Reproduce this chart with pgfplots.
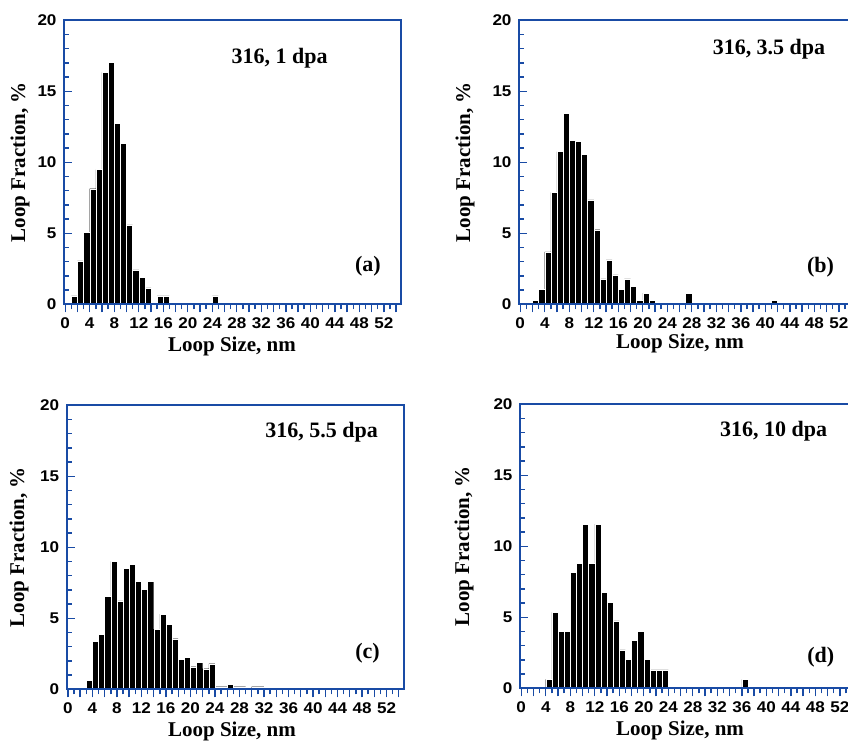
\documentclass[border=0pt]{standalone}
\usepackage{fontspec}
\setmainfont{Liberation Serif}
\newfontfamily\tickfont[FakeStretch=1.1]{Liberation Sans}
\usepackage{pgfplots}
\pgfplotsset{compat=1.18}
\definecolor{axblue}{RGB}{25,75,165}

\pgfplotsset{
  loops/.style={
    scale only axis, width=337pt, height=284pt, anchor=south west,
    xmin=-0.2, xmax=54.8, ymin=0, ymax=20,
    axis on top,
    axis line style={axblue, line width=1.8pt},
    tick style={axblue, line width=1.4pt},
    tick align=inside, tick pos=left,
    major tick length=8pt, minor tick length=5pt,
    xtick={0,4,...,52}, minor xtick={1,3,...,55},
    extra x ticks={2,6,...,54}, extra x tick labels={},
    ytick={0,5,10,15,20},
    minor ytick={1,2,3,4,6,7,8,9,11,12,13,14,16,17,18,19},
    /pgf/number format/assume math mode=true,
    tick label style={font=\tickfont\bfseries\fontsize{15.5}{15.5}\selectfont, black},
    xticklabel style={yshift=-2pt},
    yticklabel style={xshift=-4pt},
    label style={font=\bfseries\fontsize{21}{21}\selectfont},
    xlabel={Loop Size, nm}, ylabel={Loop Fraction, \%},
    ybar, bar width=1, bar shift=0pt,
  },
  hist/.style={fill=black, draw=white, line width=0.4pt},
}
\tikzset{tag/.style={font=\bfseries\fontsize{22}{22}\selectfont}}

\begin{document}
\begin{tikzpicture}

% (a) 1 dpa
\begin{axis}[loops, at={(64pt,436.7pt)},
  xlabel style={at={(axis description cs:0.4985,-0.1675)}, anchor=base},
  ylabel style={at={(axis description cs:-0.1306,0.5)}, anchor=center}]
\addplot[hist] coordinates {
 (1.5,0.59) (2.5,3.06) (3.5,5.06) (4.5,8.14) (5.5,9.48) (6.5,16.33)
 (7.5,17.03) (8.5,12.73) (9.5,11.32) (10.5,5.6) (11.5,2.42) (12.5,1.88)
 (13.5,1.15) (15.5,0.59) (16.5,0.59) (24.5,0.59)};
\node[tag] at (axis cs:35,17.3) {316, 1 dpa};
\node[tag] at (axis cs:49.4,2.7) {(a)};
\end{axis}

% (b) 3.5 dpa
\begin{axis}[loops, at={(519pt,436.7pt)},
  xlabel style={at={(axis description cs:0.478,-0.155)}, anchor=base},
  ylabel style={at={(axis description cs:-0.160,0.5)}, anchor=center}]
\addplot[hist] coordinates {
 (2.5,0.26) (3.5,1.04) (4.5,3.69) (5.5,7.88) (6.5,10.75) (7.5,13.44)
 (8.5,11.53) (9.5,11.46) (10.5,10.54) (11.5,7.36) (12.5,5.25) (13.5,1.79)
 (14.5,3.13) (15.5,2.07) (16.5,1.04) (17.5,1.79) (18.5,1.25) (19.5,0.26)
 (20.5,0.78) (21.5,0.26) (27.5,0.78) (41.5,0.26)};
\node[tag] at (axis cs:40.6,17.95) {316, 3.5 dpa};
\node[tag] at (axis cs:49.0,2.6) {(b)};
\end{axis}

% (c) 5.5 dpa
\begin{axis}[loops, at={(66.7pt,51.7pt)},
  xlabel style={at={(axis description cs:0.4905,-0.165)}, anchor=base},
  ylabel style={at={(axis description cs:-0.1415,0.5)}, anchor=center}]
\addplot[hist] coordinates {
 (3.5,0.65) (4.5,3.39) (5.5,3.88) (6.5,6.55) (7.5,9.0) (8.5,6.22)
 (9.5,8.51) (10.5,8.8) (11.5,7.6) (12.5,7.04) (13.5,7.6) (14.5,4.23)
 (15.5,5.29) (16.5,4.58) (17.5,3.56) (18.5,2.13) (19.5,2.27) (20.5,1.59)
 (21.5,1.92) (22.5,1.45) (23.5,1.8) (24.5,0.18) (25.5,0.18) (26.5,0.37)
 (27.5,0.18) (28.5,0.18) (30.5,0.18) (31.5,0.18)};
\node[tag] at (axis cs:41.4,18.1) {316, 5.5 dpa};
\node[tag] at (axis cs:48.9,2.57) {(c)};
\end{axis}

% (d) 10 dpa
\begin{axis}[loops, at={(520pt,52.7pt)},
  xlabel style={at={(axis description cs:0.475,-0.165)}, anchor=base},
  ylabel style={at={(axis description cs:-0.166,0.5)}, anchor=center}]
\addplot[hist] coordinates {
 (4.5,0.63) (5.5,5.35) (6.5,4.03) (7.5,4.03) (8.5,8.18) (9.5,8.82)
 (10.5,11.56) (11.5,8.82) (12.5,11.56) (13.5,6.78) (14.5,6.07) (15.5,4.74)
 (16.5,2.7) (17.5,2.06) (18.5,3.4) (19.5,4.03) (20.5,2.06) (21.5,1.29)
 (22.5,1.29) (23.5,1.29) (36.5,0.63)};
\node[tag] at (axis cs:41.2,18.1) {316, 10 dpa};
\node[tag] at (axis cs:48.9,2.2) {(d)};
\end{axis}

\pgfresetboundingbox
\path[use as bounding box] (0,0) rectangle (848pt,741pt);
\end{tikzpicture}
\end{document}
